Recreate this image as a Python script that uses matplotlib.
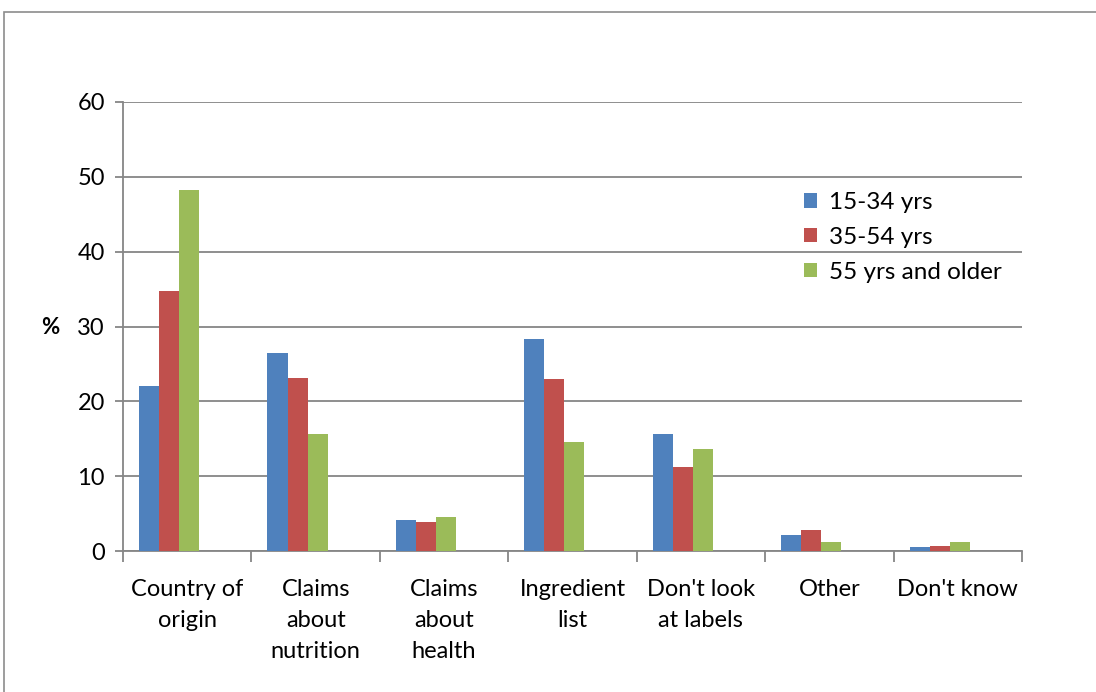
import matplotlib.pyplot as plt
from matplotlib.patches import Rectangle
import numpy as np

plt.rcParams['font.family'] = ['Lato', 'DejaVu Sans']

categories = ["Country of\norigin", "Claims\nabout\nnutrition", "Claims\nabout\nhealth",
              "Ingredient\nlist", "Don't look\nat labels", "Other", "Don't know"]
series_names = ["15-34 yrs", "35-54 yrs", "55 yrs and older"]
young = [22.1, 26.5, 4.1, 28.3, 15.7, 2.1, 0.5]
middle = [34.7, 23.1, 3.9, 23.0, 11.2, 2.8, 0.7]
older = [48.2, 15.7, 4.5, 14.6, 13.6, 1.2, 1.2]
colors = ["#4f81bd", "#c0504d", "#9bbb59"]

W, H = 1096, 692
fig = plt.figure(figsize=(W / 100, H / 100), dpi=100)

# chart frame, runs off the right and bottom edges
fig.patches.append(Rectangle((4 / W, -0.05), 1.1, 1 - 12 / H + 0.05,
                             transform=fig.transFigure, fill=False,
                             edgecolor="#8c8c8c", linewidth=1.2))

left, right, top, bottom = 123, 1022, 102, 551
ax = fig.add_axes([left / W, 1 - bottom / H, (right - left) / W, (bottom - top) / H])

x = np.arange(len(categories))
bw = 0.156
for k, (vals, name) in enumerate(zip([young, middle, older], series_names)):
    ax.bar(x - 0.375 + bw / 2 + k * bw, vals, width=bw, color=colors[k],
           label=name, zorder=3)

ax.set_xlim(-0.5, len(categories) - 0.5)
ax.set_ylim(0, 60)
ax.set_yticks(range(0, 61, 10))
ax.yaxis.grid(True, color="#868686", linewidth=1.3, zorder=0)

ax.set_xticks(np.arange(len(categories) + 1) - 0.5)
ax.set_xticklabels([])
ax.set_xticks(x, minor=True)
ax.set_xticklabels(categories, minor=True, fontsize=17, linespacing=1.6, va="top")
ax.tick_params(axis="x", which="minor", length=0, pad=20)
ax.tick_params(axis="x", which="major", length=8, width=1.3, color="#868686")
ax.tick_params(axis="y", length=6, width=1.3, color="#868686", labelsize=17, pad=7)

for side in ["top", "right"]:
    ax.spines[side].set_visible(False)
for side in ["left", "bottom"]:
    ax.spines[side].set_color("#868686")
    ax.spines[side].set_linewidth(1.3)

fig.text(50 / W, 1 - 328 / H, "%", fontsize=16, fontweight="bold",
         ha="center", va="center")

ax.legend(loc="upper left", bbox_to_anchor=(0.757, 0.80), frameon=False,
          fontsize=17.5, handlelength=0.55, handleheight=0.55, handletextpad=0.5,
          labelspacing=0.57, borderaxespad=0, borderpad=0)

fig.savefig("out.png", dpi=100)
